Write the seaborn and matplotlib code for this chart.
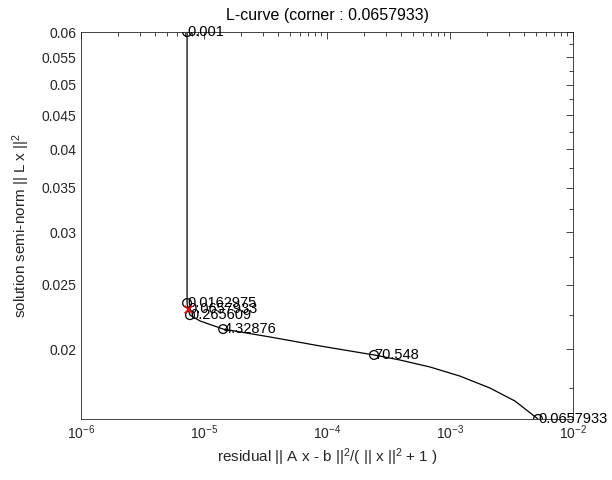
import matplotlib
matplotlib.use("Agg")
import matplotlib.pyplot as plt
import matplotlib.ticker as mticker
import seaborn as sns
import pandas as pd

# L-curve traced through the picture (residual, semi-norm)
curve_residual = [7.28e-6, 7.28e-6, 7.41e-6, 7.69e-6, 9.28e-6, 1.43e-5, 3.44e-5,
                  8.77e-5, 2.41e-4, 3.92e-4, 6.87e-4, 1.20e-3, 2.11e-3, 3.37e-3, 5.19e-3]
curve_norm = [0.0600, 0.02347, 0.0230, 0.02251, 0.02206, 0.02145, 0.02087,
              0.02023, 0.01961, 0.01927, 0.01881, 0.01823, 0.01749, 0.01672, 0.01571]

# labelled points (circles)
pt_residual = [7.28e-6, 7.28e-6, 7.69e-6, 1.43e-5, 2.41e-4, 5.19e-3]
pt_norm = [0.0600, 0.02347, 0.02251, 0.02145, 0.01961, 0.01571]
pt_labels = ["0.001", "0.0162975", "0.265609", "4.32876", "70.548", "0.0657933"]

# corner
corner_residual = 7.41e-6
corner_norm = 0.0230
corner_label = "0.0657933"

y_ticks = [0.02, 0.025, 0.03, 0.035, 0.04, 0.045, 0.05, 0.055, 0.06]
y_tick_labels = ["0.02", "0.025", "0.03", "0.035", "0.04", "0.045", "0.05", "0.055", "0.06"]
y_minor = [0.0175, 0.0225, 0.0275, 0.0325, 0.0375, 0.0425, 0.0475, 0.0525, 0.0575]

sns.set_theme(style="white")
plt.rcParams['font.family'] = ['Liberation Sans', 'DejaVu Sans']
plt.rcParams['mathtext.default'] = 'regular'
axcol = (0.15, 0.15, 0.15)

fig = plt.figure(figsize=(6.12, 4.8), dpi=100)
ax = fig.add_axes([0.1324, 0.1271, 0.8039, 0.8062])

curve = pd.DataFrame({"rho": curve_residual, "eta": curve_norm})
sns.lineplot(data=curve, x="rho", y="eta", sort=False, estimator=None,
             color="black", linewidth=0.9, ax=ax)
sns.scatterplot(x=pt_residual, y=pt_norm, marker="o", s=40, facecolor="none",
                edgecolor="black", linewidth=0.9, ax=ax, zorder=3)
sns.scatterplot(x=[corner_residual], y=[corner_norm], marker="x", s=30,
                color="red", linewidth=1.2, ax=ax, zorder=4)

for xv, yv, lab in zip(pt_residual, pt_norm, pt_labels):
    ax.text(xv, yv, lab, ha="left", va="center", fontsize=10.5, color="black",
            clip_on=False)
ax.text(corner_residual, corner_norm, corner_label, ha="left", va="center",
        fontsize=10.5, color="black", clip_on=False)

ax.set_xscale("log")
ax.set_yscale("log")
ax.set_xlim(1e-6, 1e-2)
ax.set_ylim(0.01571, 0.06)

ax.yaxis.set_major_locator(mticker.FixedLocator(y_ticks))
ax.yaxis.set_major_formatter(mticker.FixedFormatter(y_tick_labels))
ax.yaxis.set_minor_locator(mticker.FixedLocator(y_minor))
ax.yaxis.set_minor_formatter(mticker.NullFormatter())
ax.xaxis.set_major_locator(mticker.LogLocator(base=10))
ax.xaxis.set_minor_locator(mticker.LogLocator(base=10, subs=range(2, 10)))
ax.xaxis.set_minor_formatter(mticker.NullFormatter())

ax.tick_params(which="both", direction="in", top=True, right=True,
               colors=axcol, labelcolor=axcol, labelsize=10, width=0.6)
ax.tick_params(which="major", length=5)
ax.tick_params(which="minor", length=3)
for s in ax.spines.values():
    s.set_color(axcol)
    s.set_linewidth(0.6)

ax.set_title("L-curve (corner : 0.0657933)", fontsize=11.5, color="black", pad=9)
ax.set_xlabel("residual || A x - b ||$^2$/( || x ||$^2$ + 1 )", fontsize=11,
              color=axcol, labelpad=3)
ax.set_ylabel("solution semi-norm || L x ||$^2$", fontsize=11, color=axcol,
              labelpad=7)

fig.savefig("out.png", dpi=100)
